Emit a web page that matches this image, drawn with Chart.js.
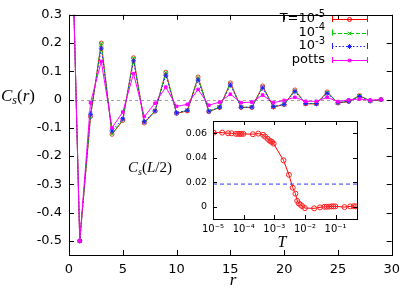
<!DOCTYPE html>
<html lang="en">
<head>
<meta charset="UTF-8">
<title>Cs(r) correlation</title>
<script src="https://cdn.jsdelivr.net/npm/chart.js"></script>
<style>
  body { margin: 0; background: #fff; }
  #wrap { position: relative; width: 407px; height: 293px; }
  #wrap canvas { position: absolute; left: 0; top: 0; }
</style>
</head>
<body>
<div id="wrap">
  <canvas id="mainChart" width="407" height="293"></canvas>
  <canvas id="insetChart" width="407" height="293"></canvas>
</div>
<script>
// main plot: distance r and the four correlation curves
const r = [0, 1, 2, 3, 4, 5, 6, 7, 8, 9, 10, 11, 12, 13, 14, 15, 16, 17, 18, 19, 20, 21, 22, 23, 24, 25, 26, 27, 28, 29];
const csT5 = [1, -0.5, -0.060, 0.200, -0.123, -0.074, 0.148, -0.083, -0.041, 0.097, -0.049, -0.040, 0.080, -0.043, -0.028, 0.059, -0.028, -0.028, 0.048, -0.026, -0.018, 0.034, -0.015, -0.015, 0.027, -0.012, -0.007, 0.014, -0.005, 0.000];
const csT4 = [1, -0.5, -0.058, 0.198, -0.121, -0.072, 0.146, -0.081, -0.040, 0.095, -0.048, -0.039, 0.078, -0.042, -0.027, 0.057, -0.027, -0.027, 0.046, -0.025, -0.017, 0.032, -0.014, -0.014, 0.025, -0.011, -0.006, 0.013, -0.004, 0.000];
const csT3 = [1, -0.5, -0.052, 0.182, -0.111, -0.068, 0.137, -0.078, -0.040, 0.086, -0.047, -0.038, 0.069, -0.041, -0.027, 0.051, -0.027, -0.027, 0.041, -0.025, -0.017, 0.028, -0.014, -0.014, 0.022, -0.011, -0.006, 0.011, -0.004, 0.000];
const csPotts = [1, -0.5, -0.011, 0.135, -0.100, -0.044, 0.092, -0.060, -0.013, 0.044, -0.024, -0.017, 0.036, -0.020, -0.009, 0.019, -0.011, -0.009, 0.016, -0.011, -0.003, 0.008, -0.006, -0.006, 0.008, -0.007, -0.001, 0.002, -0.002, 0.000];
const xTicks = [0, 5, 10, 15, 20, 25, 30];
const yTicks = [-0.5, -0.4, -0.3, -0.2, -0.1, 0, 0.1, 0.2, 0.3];
const legendBase = ['T=10', '10', '10', 'potts'];
const legendSup = ['-5', '-4', '-3', ''];

// inset: Cs(L/2) against temperature
const tInset = [1.05e-5, 2.0e-5, 3.1e-5, 4.0e-5, 5.6e-5, 6.6e-5, 7.6e-5, 8.5e-5, 9.8e-5, 2.0e-4, 3.0e-4, 4.3e-4, 5.0e-4, 6.0e-4, 6.9e-4, 7.8e-4, 8.5e-4, 9.5e-4, 2.0e-3, 3.0e-3, 4.0e-3, 4.9e-3, 5.6e-3, 6.3e-3, 7.2e-3, 8.1e-3, 1.0e-2, 2.0e-2, 3.1e-2, 4.3e-2, 5.1e-2, 6.2e-2, 7.4e-2, 8.5e-2, 9.8e-2, 0.195, 0.30, 0.39, 0.45];
const csHalf = [0.0605, 0.0605, 0.0600, 0.0600, 0.0595, 0.0595, 0.0595, 0.0595, 0.0595, 0.0592, 0.0597, 0.0587, 0.0573, 0.0555, 0.0541, 0.0533, 0.0528, 0.0515, 0.0379, 0.0261, 0.0155, 0.0107, 0.0048, 0.0027, 0.0016, 0.0005, -0.0011, -0.0013, -0.0005, 0.0000, 0.0000, 0.0001, 0.0003, 0.0003, 0.0003, -0.0003, 0.0003, 0.0005, 0.0003];
const refLevel = 0.0185;
const tTicks = [1e-5, 1e-4, 1e-3, 1e-2, 1e-1];
const tTickLabels = ['10⁻⁵', '10⁻⁴', '10⁻³', '10⁻²', '10⁻¹'];
const insetYTicks = [0, 0.02, 0.04, 0.06];

const SANS = '"DejaVu Sans", sans-serif';
const SERIF = '"Liberation Serif", serif';

function pts(xs, ys) {
  return xs.map((x, i) => ({ x: x, y: ys[i] }));
}

// draw a run of text pieces [text, font, dy] starting/centred/ending at x
function drawPieces(ctx, pieces, x, y, align) {
  let w = 0;
  pieces.forEach(p => { ctx.font = p[1]; w += ctx.measureText(p[0]).width; });
  let cx = align === 'right' ? x - w : (align === 'center' ? x - w / 2 : x);
  ctx.textAlign = 'left';
  pieces.forEach(p => {
    ctx.font = p[1];
    ctx.fillText(p[0], cx, y + (p[2] || 0));
    cx += ctx.measureText(p[0]).width;
  });
}

// box round the plot with inward ticks on all four sides (gnuplot look)
const frameTicks = {
  id: 'frameTicks',
  beforeDraw(chart, args, opts) {
    if (!opts.fill) return;
    const a = chart.chartArea;
    chart.ctx.save();
    chart.ctx.fillStyle = '#fff';
    chart.ctx.fillRect(a.left, a.top, a.right - a.left, a.bottom - a.top);
    chart.ctx.restore();
  },
  afterDraw(chart, args, opts) {
    const { ctx, chartArea: a, scales } = chart;
    const len = opts.len || 5;
    ctx.save();
    ctx.strokeStyle = '#000';
    ctx.lineWidth = 1;
    ctx.beginPath();
    scales.x.ticks.forEach(t => {
      const px = Math.round(scales.x.getPixelForValue(t.value)) + 0.5;
      ctx.moveTo(px, a.bottom); ctx.lineTo(px, a.bottom - len);
      ctx.moveTo(px, a.top); ctx.lineTo(px, a.top + len);
    });
    scales.y.ticks.forEach(t => {
      const py = Math.round(scales.y.getPixelForValue(t.value)) + 0.5;
      ctx.moveTo(a.left, py); ctx.lineTo(a.left + len, py);
      ctx.moveTo(a.right, py); ctx.lineTo(a.right - len, py);
    });
    ctx.stroke();
    ctx.strokeRect(Math.round(a.left) + 0.5, Math.round(a.top) + 0.5,
      Math.round(a.right - a.left), Math.round(a.bottom - a.top));
    ctx.restore();
  }
};

// dashed zero line in the main plot
const zeroLine = {
  id: 'zeroLine',
  beforeDatasetsDraw(chart) {
    const { ctx, chartArea: a, scales } = chart;
    const py = Math.round(scales.y.getPixelForValue(0)) + 0.5;
    ctx.save();
    ctx.strokeStyle = '#a0a0a0';
    ctx.setLineDash([3, 3]);
    ctx.beginPath();
    ctx.moveTo(a.left, py);
    ctx.lineTo(a.right, py);
    ctx.stroke();
    ctx.restore();
  }
};

// gnuplot style key with error-bar samples, plus axis titles
const mainDecor = {
  id: 'mainDecor',
  afterDraw(chart) {
    const ctx = chart.ctx;
    ctx.save();
    ctx.fillStyle = '#000';
    ctx.textBaseline = 'alphabetic';
    drawPieces(ctx, [['C', 'italic 17px ' + SERIF], ['s', 'italic 12px ' + SERIF, 3],
      ['(', '17px ' + SERIF], ['r', 'italic 17px ' + SERIF], [')', '17px ' + SERIF]], 1, 101, 'left');
    drawPieces(ctx, [['r', 'italic 17px ' + SERIF]], 233, 285, 'center');

    const rows = [19, 32.5, 46, 60];
    const ds = chart.data.datasets;
    legendBase.forEach((label, i) => {
      const y = rows[i];
      const d = ds[i];
      ctx.fillStyle = '#000';
      ctx.textBaseline = 'middle';
      const pieces = [[label, '13px ' + SANS]];
      if (legendSup[i]) pieces.push([legendSup[i], '10px ' + SANS, -5]);
      drawPieces(ctx, pieces, 325, y, 'right');
      const x0 = 332, x1 = 367;
      ctx.strokeStyle = d.borderColor;
      ctx.lineWidth = 1;
      ctx.setLineDash(d.borderDash || []);
      ctx.beginPath();
      ctx.moveTo(x0, Math.round(y) + 0.5);
      ctx.lineTo(x1, Math.round(y) + 0.5);
      ctx.stroke();
      ctx.setLineDash([]);
      ctx.beginPath();
      ctx.moveTo(x0 + 0.5, y - 3); ctx.lineTo(x0 + 0.5, y + 3);
      ctx.moveTo(x1 + 0.5, y - 3); ctx.lineTo(x1 + 0.5, y + 3);
      ctx.stroke();
      ctx.fillStyle = d.pointBackgroundColor;
      Chart.helpers.drawPoint(ctx, {
        pointStyle: d.pointStyle, rotation: 0, radius: d.pointRadius, borderWidth: 1
      }, (x0 + x1) / 2, Math.round(y) + 0.5);
    });
    ctx.restore();
  }
};

const insetDecor = {
  id: 'insetDecor',
  afterDraw(chart) {
    const ctx = chart.ctx;
    ctx.save();
    ctx.fillStyle = '#000';
    ctx.textBaseline = 'alphabetic';
    drawPieces(ctx, [['C', 'italic 15px ' + SERIF], ['s', 'italic 10px ' + SERIF, 3],
      ['(', '15px ' + SERIF], ['L', 'italic 15px ' + SERIF], ['/2)', '15px ' + SERIF]], 128, 172, 'left');
    drawPieces(ctx, [['T', 'italic 16px ' + SERIF]], 282, 247, 'center');
    ctx.restore();
  }
};

function fixedTicks(values) {
  return function (scale) { scale.ticks = values.map(v => ({ value: v })); };
}

new Chart(document.getElementById('mainChart'), {
  type: 'line',
  data: {
    datasets: [
      { data: pts(r, csT5), borderColor: '#ff0000', borderWidth: 1, pointStyle: 'circle', pointRadius: 2,
        pointBorderColor: '#ff3030', pointBackgroundColor: 'rgba(0,0,0,0)', pointBorderWidth: 1, order: 4 },
      { data: pts(r, csT4), borderColor: '#00d000', borderWidth: 1, borderDash: [4, 2], pointStyle: 'crossRot', pointRadius: 2.5,
        pointBorderColor: '#00d000', pointBackgroundColor: '#00d000', pointBorderWidth: 1, order: 3 },
      { data: pts(r, csT3), borderColor: '#2020ff', borderWidth: 1, borderDash: [1.5, 2], pointStyle: 'star', pointRadius: 2.5,
        pointBorderColor: '#2020ff', pointBackgroundColor: '#2020ff', pointBorderWidth: 1, order: 2 },
      { data: pts(r, csPotts), borderColor: '#ff00ff', borderWidth: 1, pointStyle: 'rect', pointRadius: 1.8,
        pointBorderColor: '#ff00ff', pointBackgroundColor: '#ff00ff', pointBorderWidth: 1, order: 1 }
    ]
  },
  options: {
    responsive: false,
    animation: false,
    devicePixelRatio: 1,
    layout: { padding: { left: 0, top: 5, right: 9, bottom: 0 } },
    plugins: { legend: { display: false }, tooltip: { enabled: false }, frameTicks: { len: 5 } },
    scales: {
      x: {
        type: 'linear', min: 0, max: 30,
        afterBuildTicks: fixedTicks(xTicks),
        afterFit: s => { s.height = 38; },
        grid: { display: false, drawTicks: false },
        border: { display: false },
        ticks: { padding: 7, color: '#000', font: { family: SANS, size: 13 }, maxRotation: 0 }
      },
      y: {
        type: 'linear', min: -0.55, max: 0.3,
        afterBuildTicks: fixedTicks(yTicks),
        afterFit: s => { s.width = 69; },
        grid: { display: false, drawTicks: false },
        border: { display: false },
        ticks: { padding: 7, color: '#000', font: { family: SANS, size: 13 },
          callback: v => (Math.abs(v) < 1e-9 ? '0' : v.toFixed(1)) }
      }
    }
  },
  plugins: [frameTicks, zeroLine, mainDecor]
});

new Chart(document.getElementById('insetChart'), {
  type: 'line',
  data: {
    datasets: [
      { data: pts(tInset, csHalf), borderColor: '#ff0000', borderWidth: 1, pointStyle: 'circle', pointRadius: 2.5,
        pointBorderColor: '#ff2020', pointBackgroundColor: 'rgba(0,0,0,0)', pointBorderWidth: 1, order: 1 },
      { data: pts([1e-5, 0.5], [refLevel, refLevel]), borderColor: '#3333ff', borderWidth: 1, borderDash: [4, 3],
        pointRadius: 0, order: 2 }
    ]
  },
  options: {
    responsive: false,
    animation: false,
    devicePixelRatio: 1,
    layout: { padding: { left: 0, top: 121, right: 50, bottom: 0 } },
    plugins: { legend: { display: false }, tooltip: { enabled: false }, frameTicks: { len: 4, fill: true } },
    scales: {
      x: {
        type: 'logarithmic', min: 1e-5, max: 0.5,
        afterBuildTicks: fixedTicks(tTicks),
        afterFit: s => { s.height = 74; },
        grid: { display: false, drawTicks: false },
        border: { display: false },
        ticks: { padding: 4, color: '#000', font: { family: SANS, size: 10 }, maxRotation: 0, autoSkip: false,
          callback: v => tTickLabels[tTicks.findIndex(t => Math.abs(Math.log10(t) - Math.log10(v)) < 1e-6)] }
      },
      y: {
        type: 'linear', min: -0.01, max: 0.07,
        afterBuildTicks: fixedTicks(insetYTicks),
        afterFit: s => { s.width = 213; },
        grid: { display: false, drawTicks: false },
        border: { display: false },
        ticks: { padding: 6, color: '#000', font: { family: SANS, size: 9.5 },
          callback: v => (Math.abs(v) < 1e-9 ? '0' : v.toFixed(2)) }
      }
    }
  },
  plugins: [frameTicks, insetDecor]
});
</script>
</body>
</html>
